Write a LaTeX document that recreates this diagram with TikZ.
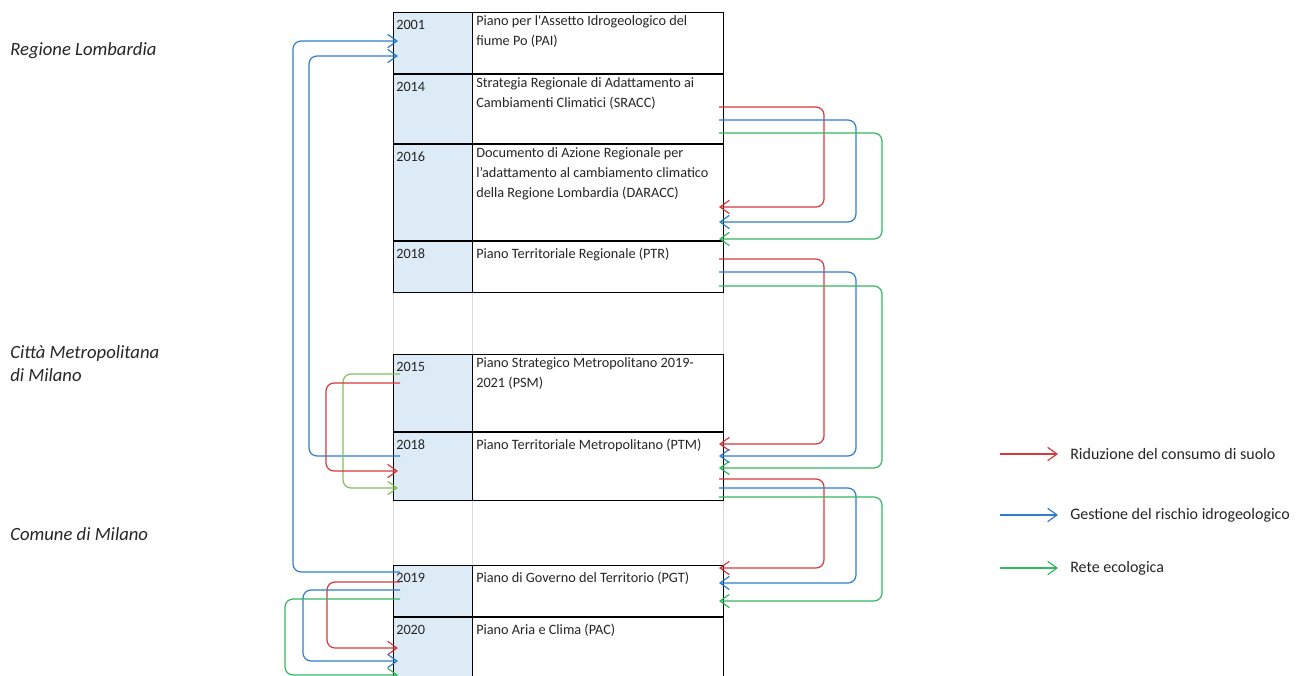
\documentclass[tikz,border=0pt]{standalone}
\usepackage{fontspec}
\setmainfont{Carlito}
\usetikzlibrary{arrows.meta}

\definecolor{rosso}{RGB}{214,58,62}
\definecolor{blu}{RGB}{46,126,204}
\definecolor{verde}{RGB}{52,184,96}
\definecolor{verdechiaro}{RGB}{134,190,92}
\definecolor{annofill}{RGB}{221,235,247}
\definecolor{griglia}{RGB}{217,217,217}
\definecolor{testo}{RGB}{38,38,38}

\tikzset{
  yearcell/.style={draw=black, line width=0.75pt, fill=annofill, anchor=north west, inner sep=0pt, minimum width=59.25pt},
  titlecell/.style={draw=black, line width=0.75pt, fill=white, anchor=north west, inner sep=0pt, minimum width=188.25pt},
  celltext/.style={anchor=north west, inner sep=0pt, align=left, text=testo, font=\fontsize{10.7}{15}\selectfont, execute at begin node=\strut},
  region/.style={anchor=west, inner sep=0pt, align=left, text=testo, font=\fontsize{14}{17.25}\selectfont\itshape},
  legtext/.style={anchor=west, inner ysep=0pt, inner xsep=9pt, text=testo, font=\fontsize{12}{14}\selectfont},
  link/.style={->, line width=0.9pt, rounded corners=6pt},
  gridline/.style={draw=griglia, line width=0.75pt}
}

\begin{document}
\begin{tikzpicture}[x=0.75pt, y=-0.75pt, >={Straight Barb[length=7pt,width=10pt]}]
	\clip (0,0) rectangle (1300,675);
	%\draw [help lines] (0,0) grid (1300,675);
	\fill[white] (0,0) rectangle (1300,675);
	\draw [gridline] (393,12) -- (393,675);
	\draw [gridline] (472,12) -- (472,675);
	\draw [gridline] (723,12) -- (723,675);

	% Regione Lombardia
	\node [region] (rl) at (10,51) {Regione Lombardia};
	\node [yearcell, minimum height=45.75pt] (y2001) at (393,12) {};
	\node [titlecell, minimum height=45.75pt] (pai) at (472,12) {};
	\node [yearcell, minimum height=51.75pt] (y2014) at (y2001.south west) {};
	\node [titlecell, minimum height=51.75pt] (sracc) at (pai.south west) {};
	\node [yearcell, minimum height=72pt] (y2016) at (y2014.south west) {};
	\node [titlecell, minimum height=72pt] (daracc) at (sracc.south west) {};
	\node [yearcell, minimum height=38.25pt] (y2018r) at (y2016.south west) {};
	\node [titlecell, minimum height=38.25pt] (ptr) at (daracc.south west) {};

	% Citta Metropolitana
	\node [region] (cm) at (10,363.5) {Città Metropolitana\\di Milano};
	\node [yearcell, minimum height=57.75pt] (y2015) at (393,354) {};
	\node [titlecell, minimum height=57.75pt] (psm) at (472,354) {};
	\node [yearcell, minimum height=51pt] (y2018m) at (y2015.south west) {};
	\node [titlecell, minimum height=51pt] (ptm) at (psm.south west) {};

	% Comune di Milano
	\node [region] (cdm) at (10,534) {Comune di Milano};
	\node [yearcell, minimum height=38.25pt] (y2019) at (393,565) {};
	\node [titlecell, minimum height=38.25pt] (pgt) at (472,565) {};
	\node [yearcell, minimum height=60pt] (y2020) at (y2019.south west) {};
	\node [titlecell, minimum height=60pt] (pac) at (pgt.south west) {};

	% testi
	\node [celltext] (t2001) at ([shift={(3,3)}]y2001.north west) {2001};
	\node [celltext] (tpai) at ([shift={(4,3)}]pai.north west) {Piano per l\textquotesingle Assetto Idrogeologico del\\fiume Po (PAI)};
	\node [celltext] (t2014) at ([shift={(3,3)}]y2014.north west) {2014};
	\node [celltext] (tsracc) at ([shift={(4,3)}]sracc.north west) {Strategia Regionale di Adattamento ai\\Cambiamenti Climatici (SRACC)};
	\node [celltext] (t2016) at ([shift={(3,3)}]y2016.north west) {2016};
	\node [celltext] (tdaracc) at ([shift={(4,3)}]daracc.north west) {Documento di Azione Regionale per\\l’adattamento al cambiamento climatico\\della Regione Lombardia (DARACC)};
	\node [celltext] (t2018r) at ([shift={(3,3)}]y2018r.north west) {2018};
	\node [celltext] (tptr) at ([shift={(4,3)}]ptr.north west) {Piano Territoriale Regionale (PTR)};
	\node [celltext] (t2015) at ([shift={(3,3)}]y2015.north west) {2015};
	\node [celltext] (tpsm) at ([shift={(4,3)}]psm.north west) {Piano Strategico Metropolitano 2019-\\2021 (PSM)};
	\node [celltext] (t2018m) at ([shift={(3,3)}]y2018m.north west) {2018};
	\node [celltext] (tptm) at ([shift={(4,3)}]ptm.north west) {Piano Territoriale Metropolitano (PTM)};
	\node [celltext] (t2019) at ([shift={(3,3)}]y2019.north west) {2019};
	\node [celltext] (tpgt) at ([shift={(4,3)}]pgt.north west) {Piano di Governo del Territorio (PGT)};
	\node [celltext] (t2020) at ([shift={(3,3)}]y2020.north west) {2020};
	\node [celltext] (tpac) at ([shift={(4,3)}]pac.north west) {Piano Aria e Clima (PAC)};

	% SRACC -> DARACC
	\draw [link, rosso] ([shift={(-5,33)}]sracc.north east) -| ([shift={(100,63)}]daracc.north east) -- ([shift={(-5,63)}]daracc.north east);
	\draw [link, blu] ([shift={(-5,46)}]sracc.north east) -| ([shift={(132,78)}]daracc.north east) -- ([shift={(-5,78)}]daracc.north east);
	\draw [link, verde] ([shift={(-5,59)}]sracc.north east) -| ([shift={(158,95)}]daracc.north east) -- ([shift={(-5,95)}]daracc.north east);
	% PTR -> PTM
	\draw [link, rosso] ([shift={(-5,18)}]ptr.north east) -| ([shift={(100,12)}]ptm.north east) -- ([shift={(-5,12)}]ptm.north east);
	\draw [link, blu] ([shift={(-5,31)}]ptr.north east) -| ([shift={(132,24)}]ptm.north east) -- ([shift={(-5,24)}]ptm.north east);
	\draw [link, verde] ([shift={(-5,45)}]ptr.north east) -| ([shift={(158,36)}]ptm.north east) -- ([shift={(-5,36)}]ptm.north east);
	% PTM -> PGT
	\draw [link, rosso] ([shift={(-5,47)}]ptm.north east) -| ([shift={(100,3)}]pgt.north east) -- ([shift={(-5,3)}]pgt.north east);
	\draw [link, blu] ([shift={(-5,56)}]ptm.north east) -| ([shift={(132,18)}]pgt.north east) -- ([shift={(-5,18)}]pgt.north east);
	\draw [link, verde] ([shift={(-5,65)}]ptm.north east) -| ([shift={(158,36)}]pgt.north east) -- ([shift={(-5,36)}]pgt.north east);

	% verso PAI
	\draw [link, blu] ([shift={(7,7)}]y2019.north west) -| ([shift={(-100,29)}]y2001.north west) -- ([shift={(5,29)}]y2001.north west);
	\draw [link, blu] ([shift={(7,24)}]y2018m.north west) -| ([shift={(-84,44)}]y2001.north west) -- ([shift={(5,44)}]y2001.north west);
	% PSM -> PTM
	\draw [link, verdechiaro] ([shift={(7,20)}]y2015.north west) -| ([shift={(-50,56)}]y2018m.north west) -- ([shift={(5,56)}]y2018m.north west);
	\draw [link, rosso] ([shift={(7,29)}]y2015.north west) -| ([shift={(-67,39)}]y2018m.north west) -- ([shift={(5,39)}]y2018m.north west);
	% PGT -> PAC
	\draw [link, rosso] ([shift={(7,17)}]y2019.north west) -| ([shift={(-66,31)}]y2020.north west) -- ([shift={(5,31)}]y2020.north west);
	\draw [link, blu] ([shift={(7,25)}]y2019.north west) -| ([shift={(-90,44)}]y2020.north west) -- ([shift={(5,44)}]y2020.north west);
	\draw [link, verde] ([shift={(7,34)}]y2019.north west) -| ([shift={(-108,58)}]y2020.north west) -- ([shift={(5,58)}]y2020.north west);

	% legenda
	\coordinate (lrid) at (1000,454);
	\node [legtext] (trid) at (1058,454) {Riduzione del consumo di suolo};
	\draw [link, rosso] (lrid) -- (trid.west);
	\coordinate (lidro) at (1000,515);
	\node [legtext] (tidro) at (1058,515) {Gestione del rischio idrogeologico};
	\draw [link, blu] (lidro) -- (tidro.west);
	\coordinate (leco) at (1000,568);
	\node [legtext] (teco) at (1058,568) {Rete ecologica};
	\draw [link, verde] (leco) -- (teco.west);
\end{tikzpicture}
\end{document}
